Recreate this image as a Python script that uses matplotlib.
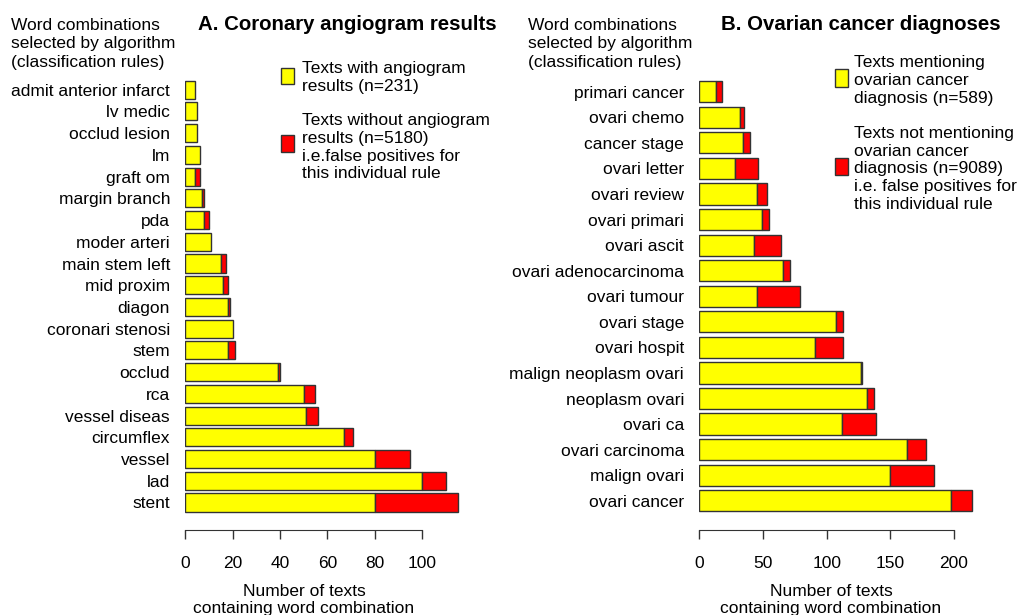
import matplotlib
matplotlib.use("Agg")
import matplotlib.pyplot as plt
from matplotlib.patches import Rectangle

plt.rcParams['font.family'] = ['Liberation Sans', 'DejaVu Sans']

# ---------------- data ----------------
left_labels = ["admit anterior infarct", "lv medic", "occlud lesion", "lm", "graft om",
               "margin branch", "pda", "moder arteri", "main stem left", "mid proxim",
               "diagon", "coronari stenosi", "stem", "occlud", "rca", "vessel diseas",
               "circumflex", "vessel", "lad", "stent"]
left_true = [4, 5, 5, 6, 4, 7, 8, 11, 15, 16, 18, 20, 18, 39, 50, 51, 67, 80, 100, 80]
left_false = [0, 0, 0, 0, 2, 1, 2, 0, 2, 2, 1, 0, 3, 1, 5, 5, 4, 15, 10, 35]
left_ticks = [0, 20, 40, 60, 80, 100]

right_labels = ["primari cancer", "ovari chemo", "cancer stage", "ovari letter", "ovari review",
                "ovari primari", "ovari ascit", "ovari adenocarcinoma", "ovari tumour",
                "ovari stage", "ovari hospit", "malign neoplasm ovari", "neoplasm ovari",
                "ovari ca", "ovari carcinoma", "malign ovari", "ovari cancer"]
right_true = [13, 32, 34, 28, 45, 49, 43, 66, 45, 107, 91, 127, 132, 112, 163, 150, 198]
right_false = [5, 3, 6, 18, 8, 6, 21, 5, 34, 6, 22, 1, 5, 27, 15, 34, 16]
right_ticks = [0, 50, 100, 150, 200]

YELLOW = "#FFFF00"
RED = "#FF0000"
EDGE = "#333333"
FS = 12.5

W, H = 1019, 615
fig = plt.figure(figsize=(W / 100, H / 100), dpi=100)


def fx(p):
    return p / W


def fy(p):
    return 1 - p / H


def panel(x0, scale, xmax, yc_top, yc_bot, labels, tv, fv, ticks, axis_y):
    n = len(labels)
    sp = (yc_bot - yc_top) / (n - 1)
    top = yc_top - 0.6 * sp
    bot = yc_bot + 0.6 * sp
    ax = fig.add_axes([fx(x0), fy(bot), xmax * scale / W, (bot - top) / H])
    ax.set_xlim(0, xmax)
    ax.set_ylim(n - 1 + 0.6, -0.6)
    pos = list(range(n))
    ax.barh(pos, tv, height=0.83, color=YELLOW, edgecolor=EDGE, linewidth=1.0)
    rp = [p for p, f in zip(pos, fv) if f > 0]
    rl = [t for t, f in zip(tv, fv) if f > 0]
    rw = [f for f in fv if f > 0]
    ax.barh(rp, rw, left=rl, height=0.83, color=RED, edgecolor=EDGE, linewidth=1.0)
    for s in ["top", "right", "left"]:
        ax.spines[s].set_visible(False)
    ax.spines["bottom"].set_position(("outward", (axis_y - bot) * 0.72))
    ax.spines["bottom"].set_bounds(ticks[0], ticks[-1])
    ax.spines["bottom"].set_color(EDGE)
    ax.set_xticks(ticks)
    ax.set_xticklabels([str(t) for t in ticks])
    ax.tick_params(axis="x", length=6.7, width=1.0, color=EDGE, labelsize=FS, pad=12)
    ax.set_yticks(pos)
    ax.set_yticklabels(labels)
    ax.tick_params(axis="y", length=0, labelsize=FS, pad=11)
    return ax


panel(185.3, 2.367, 122, 89.7, 502.5, left_labels, left_true, left_false, left_ticks, 530)
panel(699.3, 1.2733, 232, 91.7, 500.8, right_labels, right_true, right_false, right_ticks, 530)


def lines(x, ys, texts, ha="left", **kw):
    for y, t in zip(ys, texts):
        fig.text(fx(x), fy(y), t, ha=ha, va="center", fontsize=FS, **kw)


# headers
hdr = ["Word combinations", "selected by algorithm", "(classification rules)"]
lines(11, [25, 43.5, 62], hdr)
lines(528.3, [25, 43.5, 62], hdr)

# titles
fig.text(fx(198), fy(25), "A. Coronary angiogram results", ha="left", va="center",
         fontsize=14.7, fontweight="bold")
fig.text(fx(720.7), fy(25), "B. Ovarian cancer diagnoses", ha="left", va="center",
         fontsize=14.7, fontweight="bold")


def box(x, y0, y1, color):
    fig.patches.append(Rectangle((fx(x), fy(y1)), 13.3 / W, (y1 - y0) / H,
                                 transform=fig.transFigure, facecolor=color,
                                 edgecolor=EDGE, linewidth=1.0))


# legend A
box(281, 67.7, 84.3, YELLOW)
lines(301.7, [68.3, 86], ["Texts with angiogram", "results (n=231)"])
box(281, 135, 152.3, RED)
lines(301.7, [120.7, 138.3, 156, 173.6],
      ["Texts without angiogram", "results (n=5180)", "i.e.false positives for",
       "this individual rule"])

# legend B
box(835, 69.3, 87.3, YELLOW)
lines(854, [62.7, 80.5, 98.5], ["Texts mentioning", "ovarian cancer", "diagnosis (n=589)"])
box(835, 158.3, 175, RED)
lines(854, [133.3, 151, 169, 186.7, 204],
      ["Texts not mentioning", "ovarian cancer", "diagnosis (n=9089)",
       "i.e. false positives for", "this individual rule"])

# x labels
xl = ["Number of texts", "containing word combination"]
lines(304, [591, 608], xl, ha="center")
lines(831, [591, 608], xl, ha="center")

fig.savefig("out.png", dpi=100, facecolor="white")
